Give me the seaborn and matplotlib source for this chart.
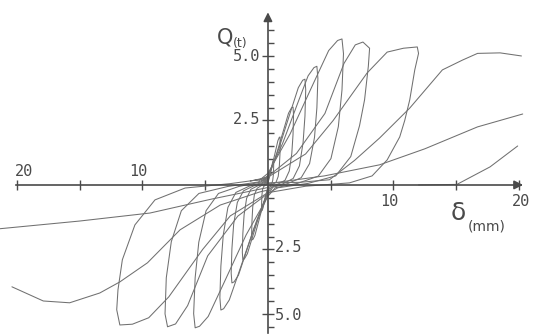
import matplotlib
matplotlib.use("Agg")
import matplotlib.pyplot as plt
import pandas as pd
import seaborn as sns

# hysteresis cycles, delta in mm and Q in t
loop_0 = [(-0.06, 0.03), (0, 0.08), (0.14, 0.33), (0.27, 0.65), (0.37, 0.87), (0.42, 0.94), (0.45, 0.95),
          (0.46, 0.86), (0.45, 0.62), (0.43, 0.38), (0.38, 0.17), (0.31, 0.06), (0.18, 0.01), (0.05, -0.02),
          (0, -0.08), (-0.15, -0.35), (-0.3, -0.68), (-0.41, -0.92), (-0.47, -0.99), (-0.5, -1.0),
          (-0.51, -0.9), (-0.5, -0.65), (-0.48, -0.4), (-0.43, -0.18), (-0.34, -0.06), (-0.2, -0.01),
          (-0.05, 0.02), (0, 0.05)]
loop_1 = [(-0.12, 0.06), (0, 0.15), (0.29, 0.65), (0.58, 1.26), (0.79, 1.71), (0.9, 1.84), (0.96, 1.86),
          (0.98, 1.67), (0.96, 1.21), (0.91, 0.74), (0.82, 0.33), (0.65, 0.11), (0.38, 0.02), (0.1, -0.04),
          (0, -0.17), (-0.38, -0.75), (-0.76, -1.45), (-1.04, -1.96), (-1.19, -2.11), (-1.27, -2.13),
          (-1.3, -1.92), (-1.27, -1.38), (-1.21, -0.85), (-1.08, -0.38), (-0.86, -0.13), (-0.51, -0.02),
          (-0.13, 0.04), (0, 0.11)]
loop_2 = [(-0.24, 0.09), (0, 0.24), (0.6, 1.06), (1.2, 2.05), (1.64, 2.78), (1.88, 2.99), (2.0, 3.02),
          (2.04, 2.72), (2.0, 1.96), (1.9, 1.21), (1.7, 0.54), (1.36, 0.18), (0.8, 0.03), (0.2, -0.06),
          (0, -0.23), (-0.6, -1.02), (-1.2, -1.97), (-1.64, -2.67), (-1.88, -2.87), (-2.0, -2.9),
          (-2.04, -2.61), (-2.0, -1.89), (-1.9, -1.16), (-1.7, -0.52), (-1.36, -0.17), (-0.8, -0.03),
          (-0.2, 0.06), (0, 0.15)]
loop_3 = [(-0.35, 0.12), (0, 0.33), (0.89, 1.44), (1.77, 2.79), (2.42, 3.77), (2.77, 4.06), (2.95, 4.1),
          (3.01, 3.69), (2.95, 2.67), (2.8, 1.64), (2.51, 0.74), (2.01, 0.25), (1.18, 0.04), (0.3, -0.08),
          (0, -0.3), (-0.86, -1.33), (-1.72, -2.58), (-2.35, -3.5), (-2.7, -3.76), (-2.87, -3.8),
          (-2.93, -3.42), (-2.87, -2.47), (-2.73, -1.52), (-2.44, -0.68), (-1.95, -0.23), (-1.15, -0.04),
          (-0.29, 0.08), (0, 0.19)]
loop_4 = [(-0.47, 0.14), (0, 0.37), (1.17, 1.61), (2.34, 3.13), (3.2, 4.23), (3.67, 4.55), (3.9, 4.6),
          (3.98, 4.14), (3.9, 2.99), (3.71, 1.84), (3.32, 0.83), (2.65, 0.28), (1.56, 0.05), (0.39, -0.09),
          (0, -0.39), (-1.13, -1.7), (-2.25, -3.3), (-3.08, -4.46), (-3.53, -4.8), (-3.75, -4.85),
          (-3.83, -4.37), (-3.75, -3.15), (-3.56, -1.94), (-3.19, -0.87), (-2.55, -0.29), (-1.5, -0.05),
          (-0.38, 0.1), (0, 0.24)]
loop_5 = [(-0.71, 0.17), (0, 0.45), (1.77, 1.98), (3.54, 3.85), (4.84, 5.21), (5.55, 5.6), (5.9, 5.66),
          (6.02, 5.09), (5.9, 3.68), (5.61, 2.26), (5.02, 1.02), (4.01, 0.34), (2.36, 0.06), (0.59, -0.11),
          (0, -0.44), (-1.74, -1.94), (-3.48, -3.77), (-4.76, -5.1), (-5.45, -5.48), (-5.8, -5.54),
          (-5.92, -4.99), (-5.8, -3.6), (-5.51, -2.22), (-4.93, -1.0), (-3.94, -0.33), (-2.32, -0.06),
          (-0.58, 0.11), (0, 0.28)]
loop_6 = [(-0.91, 0.17), (0, 0.33), (2.27, 1.22), (4.54, 2.77), (6.06, 4.71), (6.96, 5.43), (7.57, 5.54),
          (8.1, 5.3), (8.0, 4.6), (7.7, 3.3), (7.3, 2.3), (6.6, 1.1), (5.4, 0.35), (3.2, 0.06), (0.8, -0.11),
          (0, -0.33), (-2.4, -1.21), (-4.8, -2.75), (-6.4, -4.68), (-7.36, -5.39), (-8.0, -5.5),
          (-8.2, -5.0), (-8.1, -3.6), (-7.7, -2.2), (-6.9, -1.0), (-5.5, -0.33), (-3.2, -0.06),
          (-0.8, 0.11), (0, 0.28)]
loop_7 = [(-1.4, 0.15), (0, 0.3), (3.0, 1.2), (5.2, 2.5), (7.9, 4.34), (9.5, 5.15), (10.8, 5.3), (11.9, 5.35),
          (12.0, 5.1), (11.7, 4.46), (11.3, 3.3), (10.9, 2.5), (10.5, 1.86), (9.5, 0.97), (8.3, 0.35),
          (6.5, 0.08), (3.0, -0.05), (0, -0.3), (-3.0, -1.2), (-5.2, -2.5), (-7.9, -4.34), (-9.5, -5.15),
          (-10.8, -5.4), (-11.8, -5.43), (-12.05, -4.84), (-11.95, -4.07), (-11.6, -2.9), (-10.6, -1.55),
          (-9.0, -0.58), (-6.6, -0.12), (-3.0, 0.05), (0, 0.25)]
envelope_pos = [(0, 0.08), (2.5, 0.1), (4.9, 0.2), (6.9, 0.95), (8.9, 1.82), (11.3, 2.98), (13.9, 4.46),
                (15.5, 4.84), (16.7, 5.1), (18.5, 5.12), (20.2, 5.0)]
envelope_neg = [(0, -0.2), (-0.64, -0.27), (-3.8, -0.78), (-7.0, -1.74), (-9.6, -3.02), (-11.8, -3.76),
                (-13.4, -4.19), (-15.8, -4.57), (-17.9, -4.5), (-20.4, -3.95)]
reload_pos = [(0, 0.05), (4.5, 0.35), (8.9, 0.78), (12.5, 1.4), (16.7, 2.25), (20.3, 2.75)]
reload_neg = [(0, -0.1), (-4.5, -0.55), (-9.4, -1.09), (-15.0, -1.4), (-21.4, -1.7)]
last_pos = [(12.0, 0.0), (15.06, 0.02), (17.7, 0.7), (19.9, 1.51)]

curves = {"loop_0": loop_0, "loop_1": loop_1, "loop_2": loop_2, "loop_3": loop_3,
          "loop_4": loop_4, "loop_5": loop_5, "loop_6": loop_6, "loop_7": loop_7,
          "envelope_pos": envelope_pos, "envelope_neg": envelope_neg,
          "reload_pos": reload_pos, "reload_neg": reload_neg, "last_pos": last_pos}

frames = []
for name, pts in curves.items():
    f = pd.DataFrame(pts, columns=["delta", "Q"])
    f["curve"] = name
    frames.append(f)
df = pd.concat(frames, ignore_index=True)

sns.set_theme(style="white")
plt.rcParams["font.family"] = ["DejaVu Sans"]

ink = "#4a4a4a"
fig = plt.figure(figsize=(5.36, 3.34), dpi=100)
ax = fig.add_axes([0, 0, 1, 1])
ax.set_facecolor("white")

sns.lineplot(data=df, x="delta", y="Q", units="curve", estimator=None, sort=False,
             color="#707070", linewidth=0.75, legend=False, ax=ax)
ax.set_xlabel("")
ax.set_ylabel("")

ax.set_xlim(-21.35, 21.36)
ax.set_ylim(-5.78, 7.17)

# axes through the origin
ax.spines[["top", "right"]].set_visible(False)
ax.spines["left"].set_position(("data", 0))
ax.spines["bottom"].set_position(("data", 0))
ax.spines["left"].set_bounds(-5.74, 6.5)
ax.spines["bottom"].set_bounds(-20.1, 20.2)
for s in ["left", "bottom"]:
    ax.spines[s].set_color(ink)
    ax.spines[s].set_linewidth(1.2)
ax.annotate("", xy=(0, 6.8), xytext=(0, 6.3),
            arrowprops=dict(arrowstyle="-|>", color=ink, lw=1.2, mutation_scale=13))
ax.annotate("", xy=(20.55, 0), xytext=(19.8, 0),
            arrowprops=dict(arrowstyle="-|>", color=ink, lw=1.2, mutation_scale=13))

ax.set_xticks([-20, -15, -10, -5, 5, 10, 15, 20])
ax.set_yticks([-5.0, -2.5, 2.5, 5.0])
ax.set_yticks([-5.5, -4.5, -4, -3.5, -3, -2, -1.5, -1, -0.5, 0.5, 1, 1.5, 2, 3, 3.5, 4, 4.5, 5.5, 6.0], minor=True)
ax.tick_params(axis="x", direction="inout", length=7, width=1, color=ink, labelbottom=False, bottom=True)
ax.tick_params(axis="y", which="major", direction="inout", length=8, width=1, color=ink, labelleft=False, left=True)
ax.tick_params(axis="y", which="minor", direction="in", length=4, width=1, color=ink, left=True)
ax.grid(False)

mono = "DejaVu Sans Mono"
lab = dict(fontsize=11, family=mono, color=ink)
ax.text(-19.45, 0.22, "20", ha="center", va="bottom", **lab)
ax.text(-10.3, 0.22, "10", ha="center", va="bottom", **lab)
ax.text(9.65, -0.35, "10", ha="center", va="top", **lab)
ax.text(20.2, -0.35, "20", ha="center", va="top", **lab)
ax.text(-0.6, 4.96, "5.0", ha="right", va="center", **lab)
ax.text(-0.6, 2.52, "2.5", ha="right", va="center", **lab)
ax.text(0.55, -2.42, "2.5", ha="left", va="center", **lab)
ax.text(0.55, -5.08, "5.0", ha="left", va="center", **lab)

ax.text(-3.45, 5.7, "Q", fontsize=15, ha="center", va="center", color=ink)
ax.text(-2.2, 5.5, "(t)", fontsize=9, ha="center", va="center", color=ink)
ax.text(15.2, -1.09, "δ", fontsize=18, ha="center", va="center", color=ink)
ax.text(17.45, -1.6, "(mm)", fontsize=10, ha="center", va="center", color=ink)

fig.savefig("out.png", dpi=100)
